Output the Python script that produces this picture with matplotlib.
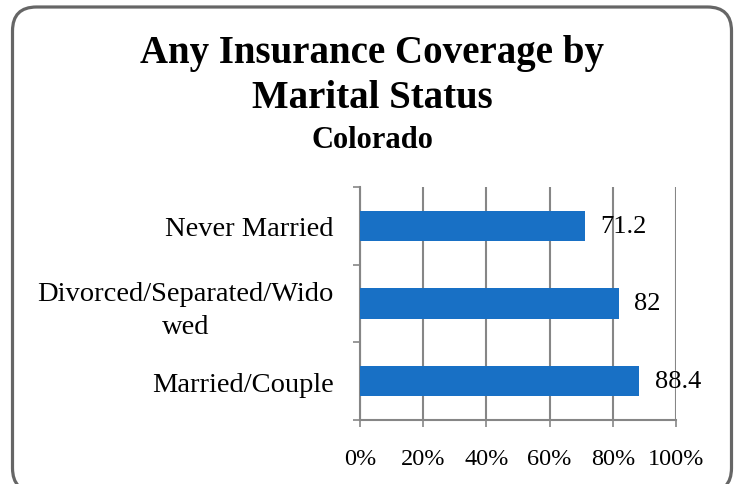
import matplotlib
matplotlib.use("Agg")
import matplotlib.pyplot as plt
import matplotlib.transforms as mtransforms
from matplotlib.patches import FancyBboxPatch
from matplotlib.ticker import FixedLocator, PercentFormatter

# data, bottom to top as drawn
categories = ["Married/Couple", "Divorced/Separated/Wido\nwed", "Never Married"]
coverage = [88.4, 82, 71.2]
value_labels = ["88.4", "82", "71.2"]
x_ticks = [0, 20, 40, 60, 80, 100]

title_lines = ["Any Insurance Coverage by", "Marital Status"]
subtitle = "Colorado"

bar_color = "#1870C5"
grid_color = "#868686"
serif = ["Liberation Serif", "DejaVu Serif"]

plt.rcParams["font.family"] = serif

fig = plt.figure(figsize=(7.34, 4.85), dpi=100)
ax = fig.add_axes([0.4905, 0.132, 0.4305, 0.4804])

pos = list(range(len(categories)))
bars = ax.barh(pos, coverage, height=0.39, color=bar_color, zorder=3)
ax.bar_label(bars, labels=value_labels, padding=11, fontsize=19, color="black")

ax.set_xlim(0, 100)
ax.set_ylim(-0.5, len(categories) - 0.5)
ax.xaxis.set_major_locator(FixedLocator(x_ticks))
ax.xaxis.set_major_formatter(PercentFormatter(decimals=0))
ax.grid(axis="x", color=grid_color, linewidth=1.5, zorder=0)
ax.tick_params(axis="x", direction="out", length=5, width=1.2, color=grid_color,
               labelsize=17.5, pad=15)

# category boundary ticks, labels on minor ticks
ax.yaxis.set_major_locator(FixedLocator([p - 0.5 for p in pos] + [pos[-1] + 0.5]))
ax.yaxis.set_major_formatter(plt.NullFormatter())
ax.set_yticks(pos, minor=True)
ax.set_yticklabels(categories, minor=True, fontsize=20.5, ha="right",
                   multialignment="center", linespacing=1.4)
ax.tick_params(axis="y", which="major", direction="out", length=5, width=1.2,
               color=grid_color)
ax.tick_params(axis="y", which="minor", length=0, pad=19)

for side in ["top", "right"]:
    ax.spines[side].set_visible(False)
for side in ["left", "bottom"]:
    ax.spines[side].set_color(grid_color)
    ax.spines[side].set_linewidth(1.5)

fig.text(0.507, 0.870, title_lines[0], ha="center", va="baseline", fontsize=28,
         fontweight="bold")
fig.text(0.507, 0.777, title_lines[1], ha="center", va="baseline", fontsize=28,
         fontweight="bold")
fig.text(0.507, 0.695, subtitle, ha="center", va="baseline", fontsize=22,
         fontweight="bold")

border = FancyBboxPatch((12.5, -8), 719, 485, boxstyle="round,pad=0,rounding_size=24",
                        transform=mtransforms.IdentityTransform(), facecolor="none",
                        edgecolor="#666666", linewidth=2.3)
fig.add_artist(border)

fig.savefig("out.png", dpi=100)
